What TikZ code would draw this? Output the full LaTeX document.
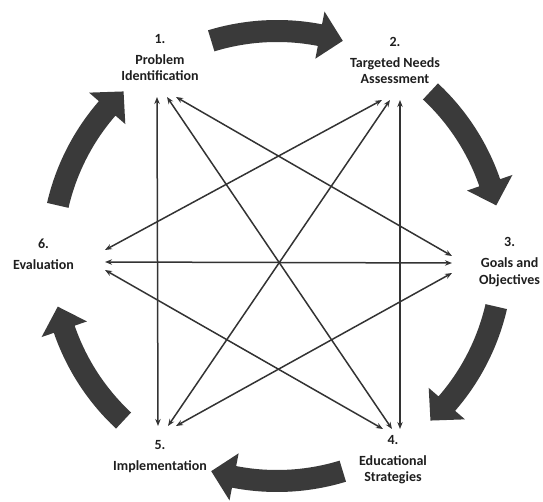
\documentclass[tikz,border=0pt]{standalone}
\usepackage{fontspec}
\setmainfont{Carlito}
\usetikzlibrary{arrows.meta,calc}
\definecolor{ink}{HTML}{1E1E1E}
\definecolor{flow}{HTML}{3A3A3A}
\definecolor{wire}{HTML}{333333}

\begin{document}
\begin{tikzpicture}[
  x=1pt,
  y=-1pt,
  >={Stealth[length=7pt,width=5.4pt]},
  stage/.style={font=\bfseries\fontsize{14}{16.5}\selectfont, text=ink,
                align=center, inner sep=0pt},
  link/.style={<->, line width=1.5pt, color=wire},
  turn/.style={fill=flow},
]

\useasboundingbox (0,0) rectangle (543,502);
\coordinate (hub) at (277,256);

% the six stages round the circle
\node[stage, anchor=south, inner ysep=16pt] (problem) at (160,97) {1.\\[4.5pt]Problem\\Identification};
\node[stage, anchor=south, inner ysep=16pt] (needs) at (395,100) {2.\\[4.5pt]Targeted Needs\\Assessment};
\node[stage, anchor=west, inner xsep=27pt] (goals) at (452,262) {3.\\[4.5pt]Goals and\\Objectives};
\node[stage, anchor=north, inner ysep=6pt] (strategies) at (393,429) {4.\\[4.5pt]Educational\\Strategies};
\node[stage, anchor=north, inner ysep=14pt] (implement) at (160,426) {5.\\[4.5pt]Implementation};
\node[stage, anchor=east, inner xsep=31pt] (evaluation) at (105,254) {6.\\[4.5pt]Evaluation};

% thick arrows of the cycle, clockwise
\foreach \m in {-90,-30,30,90,150,210}{
  \fill[turn] ($(hub)+(\m-17:214)$) arc[start angle=\m-17, end angle=\m+11, radius=214]
    -- ($(hub)+(\m+11:201)$) -- ($(hub)+(\m+17:225)$) -- ($(hub)+(\m+11:249)$)
    -- ($(hub)+(\m+11:236)$) arc[start angle=\m+11, end angle=\m-17, radius=236] -- cycle;
}

% every stage feeds back to the others
\draw[link] ([xshift=-3pt]problem.south) -- ([xshift=-2pt]implement.north);
\draw[link] ([xshift=7pt]problem.south) -- ([xshift=-1pt]strategies.north);
\draw[link] ([xshift=16pt]problem.south) -- ([yshift=6pt]goals.west);
\draw[link] ([xshift=5pt]needs.south) -- ([xshift=7pt]strategies.north);
\draw[link] ([xshift=-5pt]needs.south) -- ([xshift=8pt]implement.north);
\draw[link] ([xshift=-13pt]needs.south) -- ([yshift=4pt]evaluation.east);
\draw[link] ([yshift=-1pt]goals.west) -- ([yshift=-8pt]evaluation.east);
\draw[link] ([yshift=-11pt]goals.west) -- ([xshift=16pt]implement.north);
\draw[link] ([xshift=-10pt]strategies.north) -- ([yshift=-16pt]evaluation.east);

\end{tikzpicture}
\end{document}
